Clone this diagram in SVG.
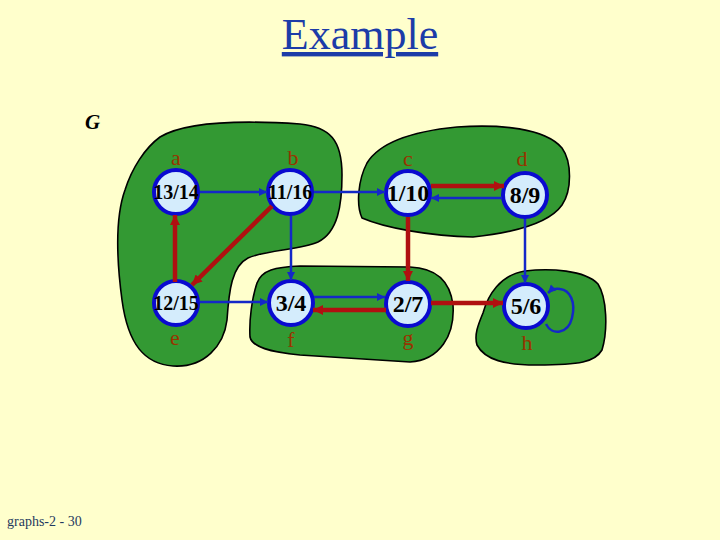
<svg xmlns="http://www.w3.org/2000/svg" width="720" height="540" viewBox="0 0 720 540">
<defs>
<style>
.blob{fill:#339933;stroke:#000;stroke-width:1.6}
.node{fill:#d4ecfc;stroke:#0a0ad0;stroke-width:4}
.num{font-family:"Liberation Serif",serif;font-weight:bold;fill:#000;text-anchor:middle}
.small{font-size:20px}
.big{font-size:24px}
.lbl{font-family:"Liberation Serif",serif;font-size:22px;fill:#993300;text-anchor:middle}
.blue{stroke:#1428c8;stroke-width:2.5;fill:none;marker-end:url(#ab)}
.red{stroke:#b01010;stroke-width:4.5;fill:none;marker-end:url(#ar)}
</style>
<marker id="ab" markerUnits="userSpaceOnUse" viewBox="0 0 10 10" refX="10" refY="5" markerWidth="9" markerHeight="8" orient="auto"><path d="M0,0 L10,5 L0,10 Z" fill="#1428c8"/></marker>
<marker id="ar" markerUnits="userSpaceOnUse" viewBox="0 0 10 10" refX="10" refY="5" markerWidth="11" markerHeight="10" orient="auto"><path d="M0,0 L10,5 L0,10 Z" fill="#b01010"/></marker>
</defs>
<rect width="720" height="540" fill="#ffffcc"/>
<text x="360" y="49" font-family="Liberation Serif,serif" font-size="44" fill="#1c3ca8" text-anchor="middle" text-decoration="underline">Example</text>
<text x="85" y="129" font-family="Liberation Serif,serif" font-size="21" font-style="italic" font-weight="bold" fill="#000">G</text>
<text x="7" y="526" font-family="Liberation Serif,serif" font-size="14" fill="#1f3a5f">graphs-2 - 30</text>
<g id="components">
<path class="blob" d="M160,137 C185,122 240,120 300,124 C330,127 342,140 342,175 C342,205 338,232 318,242 C300,250 265,250 248,258 C232,266 229,290 227,320 C224,345 205,368 173,366 C145,364 128,345 122,300 C116,255 116,215 125,190 C132,168 145,148 160,137 Z"/>
<path class="blob" d="M257,283 C262,270 275,267 300,266 L410,267 C435,268 450,280 453,305 C455,335 440,360 410,362 L300,355 C270,352 252,347 250,337 C249,320 252,298 257,283 Z"/>
<path class="blob" d="M367,163 C378,145 405,132 457,127 C500,124 545,128 562,148 C572,162 572,190 562,205 C550,222 520,232 473,237 C430,236 385,228 362,218 C356,205 358,180 367,163 Z"/>
<path class="blob" d="M483,313 C488,295 500,275 525,271 C550,268 585,270 598,284 C607,298 608,330 602,350 C595,362 580,365 537,365 C505,365 485,360 477,345 C474,335 478,325 483,313 Z"/>
</g>
<g id="node-a"><circle class="node" cx="176" cy="192" r="22"/><text class="num small" x="176" y="199">13/14</text><text class="lbl" x="176" y="165">a</text></g>
<g id="node-b"><circle class="node" cx="290" cy="192" r="22"/><text class="num small" x="290" y="199">11/16</text><text class="lbl" x="293" y="165">b</text></g>
<g id="node-c"><circle class="node" cx="408" cy="193" r="22"/><text class="num big" x="408" y="201">1/10</text><text class="lbl" x="408" y="166">c</text></g>
<g id="node-d"><circle class="node" cx="525" cy="195" r="22"/><text class="num big" x="525" y="203">8/9</text><text class="lbl" x="522" y="166">d</text></g>
<g id="node-e"><circle class="node" cx="176" cy="303" r="22"/><text class="num small" x="176" y="310">12/15</text><text class="lbl" x="175" y="345">e</text></g>
<g id="node-f"><circle class="node" cx="291" cy="303" r="22"/><text class="num big" x="291" y="311">3/4</text><text class="lbl" x="291" y="347">f</text></g>
<g id="node-g"><circle class="node" cx="408" cy="304" r="22"/><text class="num big" x="408" y="312">2/7</text><text class="lbl" x="408" y="345">g</text></g>
<g id="node-h"><circle class="node" cx="526" cy="306" r="22"/><text class="num big" x="526" y="314">5/6</text><text class="lbl" x="527" y="350">h</text></g>
<g id="connectors">
<line class="blue" x1="200" y1="192" x2="267" y2="192"/>
<line class="blue" x1="314" y1="192" x2="385" y2="192"/>
<line class="red" x1="175" y1="282" x2="175" y2="215"/>
<line class="red" x1="272" y1="206" x2="192" y2="285"/>
<line class="blue" x1="291" y1="216" x2="291" y2="280"/>
<line class="blue" x1="200" y1="302" x2="268" y2="302"/>
<line class="blue" x1="314" y1="297" x2="385" y2="297"/>
<line class="red" x1="386" y1="310" x2="313" y2="310"/>
<line class="red" x1="408" y1="217" x2="408" y2="281"/>
<line class="red" x1="431" y1="186" x2="504" y2="186"/>
<line class="blue" x1="502" y1="198" x2="431" y2="198"/>
<line class="blue" x1="525" y1="219" x2="525" y2="283"/>
<line class="red" x1="431" y1="303" x2="503" y2="303"/>
<path class="blue" d="M546,324 C552,336 568,334 572,318 C576,302 570,290 560,289 C555,288 551,290 548,293"/>
</g>
</svg>
